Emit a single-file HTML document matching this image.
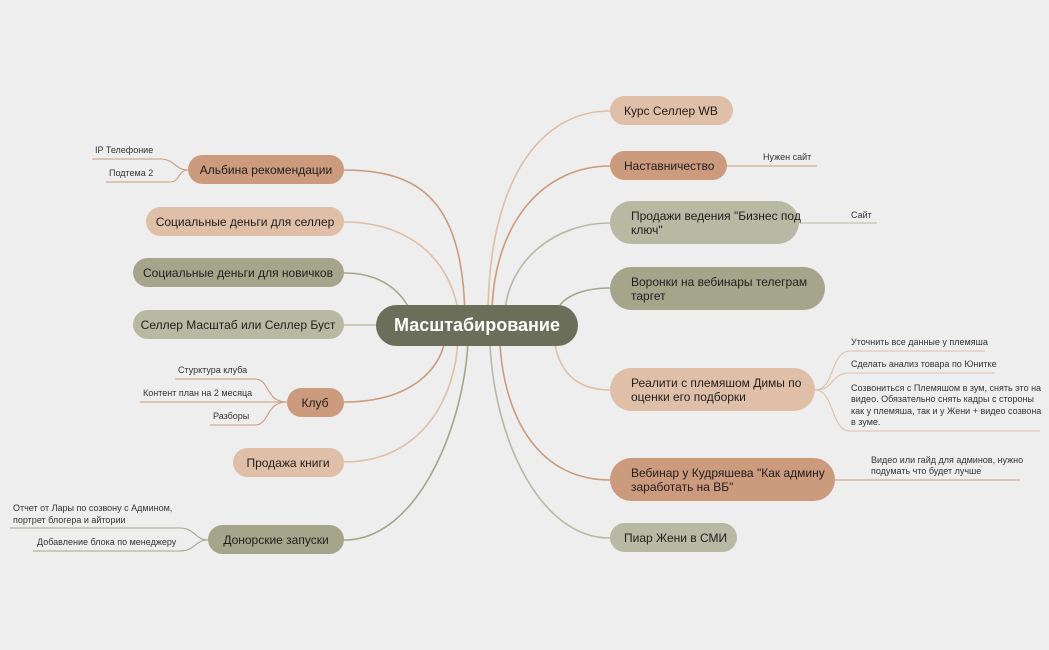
<!DOCTYPE html>
<html><head><meta charset="utf-8"><style>
html,body{margin:0;padding:0;background:#eeeeee;}
svg{display:block;font-family:"Liberation Sans","Noto Sans CJK SC",sans-serif;}
.n{font-size:12px;fill:#1e1e1e;}
.s{font-size:9px;fill:#333;}
</style></head><body>
<svg width="1049" height="650" viewBox="0 0 1049 650" xmlns="http://www.w3.org/2000/svg">
<g fill="none" stroke-width="1.6">
<!-- left connectors -->
<path d="M344,170 C420,170 465,200 465,325" stroke="#cc9a7d"/>
<path d="M344,222 C410,222 455,260 460,325" stroke="#dfbfa8"/>
<path d="M344,273 C380,273 400,290 410,310" stroke="#a5a58b"/>
<path d="M344,325 L380,325" stroke="#b8b9a3"/>
<path d="M344,402 C410,402 440,370 445,340" stroke="#cc9a7d"/>
<path d="M344,462 C420,462 455,400 458,340" stroke="#dfbfa8"/>
<path d="M344,540 C420,540 465,420 468,340" stroke="#a5a58b"/>
<!-- right connectors -->
<path d="M610,111 C540,111 490,180 488,310" stroke="#dfbfa8"/>
<path d="M610,166 C545,166 495,220 492,310" stroke="#cc9a7d"/>
<path d="M610,223 C555,223 510,260 505,310" stroke="#b8b9a3"/>
<path d="M610,288 C585,288 568,295 560,305" stroke="#a5a58b"/>
<path d="M610,390 C575,390 560,370 555,345" stroke="#dfbfa8"/>
<path d="M610,480 C540,480 505,420 500,345" stroke="#cc9a7d"/>
<path d="M610,538 C540,538 495,440 490,345" stroke="#b8b9a3"/>
<!-- sub branches -->
<g stroke="#cc9a7d" stroke-width="1.1">
<path d="M92,159 L160,159 C175,159 175,170 188,170"/>
<path d="M106,182 L170,182 C180,182 178,170 188,170"/>
<path d="M175,379 L255,379 C270,379 265,402 287,402"/>
<path d="M140,402 L287,402"/>
<path d="M210,425 L255,425 C270,425 265,402 287,402"/>
<path d="M727,166 L817,166"/>
<path d="M835,480 L1020,480"/>
</g>
<g stroke="#a5a58b" stroke-width="1.1">
<path d="M10,528 L180,528 C195,528 195,540 208,540"/>
<path d="M33,551 L180,551 C195,551 195,540 208,540"/>
</g>
<path d="M799,223 L877,223" stroke="#b8b9a3" stroke-width="1.1"/>
<g stroke="#dfbfa8" stroke-width="1.1">
<path d="M815,390 C835,390 830,351 850,351 L985,351"/>
<path d="M815,390 C835,390 830,373 850,373 L995,373"/>
<path d="M815,390 C835,390 830,431 850,431 L1040,431"/>
</g>
</g>
<!-- center -->
<rect x="376" y="305" width="202" height="41" rx="20.5" fill="#6b6f59"/>
<text x="477" y="331" text-anchor="middle" font-size="18" font-weight="bold" fill="#fff">Масштабирование</text>
<!-- left nodes -->
<rect x="188" y="155" width="156" height="29" rx="14.5" fill="#cc9a7d"/>
<text class="n" x="266" y="174" text-anchor="middle">Альбина рекомендации</text>
<rect x="146" y="207" width="198" height="29" rx="14.5" fill="#dfbfa8"/>
<text class="n" x="245" y="226" text-anchor="middle">Социальные деньги для селлер</text>
<rect x="133" y="258" width="211" height="29" rx="14.5" fill="#a5a58b"/>
<text class="n" x="238" y="277" text-anchor="middle">Социальные деньги для новичков</text>
<rect x="133" y="310" width="211" height="29" rx="14.5" fill="#b8b9a3"/>
<text class="n" x="238" y="329" text-anchor="middle">Селлер Масштаб или Селлер Буст</text>
<rect x="287" y="388" width="57" height="29" rx="14.5" fill="#cc9a7d"/>
<text class="n" x="315" y="407" text-anchor="middle">Клуб</text>
<rect x="233" y="448" width="111" height="29" rx="14.5" fill="#dfbfa8"/>
<text class="n" x="288" y="467" text-anchor="middle">Продажа книги</text>
<rect x="208" y="525" width="136" height="29" rx="14.5" fill="#a5a58b"/>
<text class="n" x="276" y="544" text-anchor="middle">Донорские запуски</text>
<!-- right nodes -->
<rect x="610" y="96" width="123" height="29" rx="14.5" fill="#dfbfa8"/>
<text class="n" x="624" y="115">Курс Селлер WB</text>
<rect x="610" y="151" width="117" height="29" rx="14.5" fill="#cc9a7d"/>
<text class="n" x="624" y="170">Наставничество</text>
<rect x="610" y="201" width="189" height="43" rx="21.5" fill="#b8b9a3"/>
<text class="n" x="631" y="220">Продажи ведения "Бизнес под</text>
<text class="n" x="631" y="234">ключ"</text>
<rect x="610" y="267" width="215" height="43" rx="21.5" fill="#a5a58b"/>
<text class="n" x="631" y="286">Воронки на вебинары телеграм</text>
<text class="n" x="631" y="300">таргет</text>
<rect x="610" y="368" width="205" height="43" rx="21.5" fill="#dfbfa8"/>
<text class="n" x="631" y="387">Реалити с племяшом Димы по</text>
<text class="n" x="631" y="401">оценки его подборки</text>
<rect x="610" y="458" width="225" height="43" rx="21.5" fill="#cc9a7d"/>
<text class="n" x="631" y="477">Вебинар у Кудряшева "Как админу</text>
<text class="n" x="631" y="491">заработать на ВБ"</text>
<rect x="610" y="523" width="127" height="29" rx="14.5" fill="#b8b9a3"/>
<text class="n" x="624" y="542">Пиар Жени в СМИ</text>
<!-- subtexts -->
<text class="s" x="95" y="153">IP Телефоние</text>
<text class="s" x="109" y="176">Подтема 2</text>
<text class="s" x="178" y="373">Стурктура клуба</text>
<text class="s" x="143" y="396">Контент план на 2 месяца</text>
<text class="s" x="213" y="419">Разборы</text>
<text class="s" x="13" y="511">Отчет от Лары по созвону с Админом,</text>
<text class="s" x="13" y="523">портрет блогера и айтории</text>
<text class="s" x="37" y="545">Добавление блока по менеджеру</text>
<text class="s" x="763" y="160">Нужен сайт</text>
<text class="s" x="851" y="218">Сайт</text>
<text class="s" x="851" y="345">Уточнить все данные у племяша</text>
<text class="s" x="851" y="367">Сделать анализ товара по Юнитке</text>
<text class="s" x="851" y="391">Созвониться с Племяшом в зум, снять это на</text>
<text class="s" x="851" y="402">видео. Обязательно снять кадры с стороны</text>
<text class="s" x="851" y="414">как у племяша, так и у Жени + видео созвона</text>
<text class="s" x="851" y="425">в зуме.</text>
<text class="s" x="871" y="463">Видео или гайд для админов, нужно</text>
<text class="s" x="871" y="474">подумать что будет лучше</text>
</svg>
</body></html>
